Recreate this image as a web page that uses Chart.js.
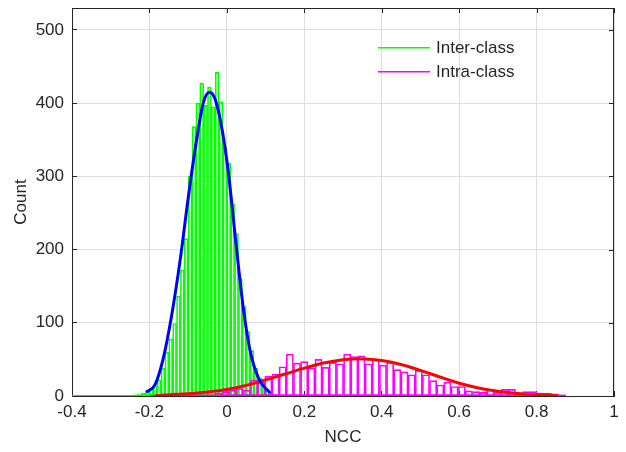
<!DOCTYPE html>
<html>
<head>
<meta charset="utf-8">
<script src="https://cdn.jsdelivr.net/npm/chart.js@4/dist/chart.umd.min.js"></script>
<style>
html,body{margin:0;padding:0;background:#ffffff;}
#wrap{width:626px;height:452px;}
</style>
</head>
<body>
<div id="wrap"><canvas id="c" width="626" height="452"></canvas></div>
<script>
// ---------- data ----------
const seriesNames = ['Inter-class', 'Intra-class'];
const xTicks = [-0.4, -0.2, 0, 0.2, 0.4, 0.6, 0.8, 1];
const yTicks = [0, 100, 200, 300, 400, 500];

// Inter-class histogram: first bin edge, bin width, counts
const interStart = -0.40;
const interWidth = 0.01;
const interCounts = [
  1, 0, 0, 0, 0, 0, 0, 0, 0, 0, 0, 0,
  1, 0, 1, 1, 2, 3,
  4, 6, 9, 14, 22, 38, 60, 78, 99, 136,
  172, 215, 300, 368, 400, 427, 397, 422, 395, 442,
  402, 340, 318, 262, 222, 160, 122, 88, 62, 38,
  24, 14, 8, 4, 2
];

// Intra-class histogram
const intraStart = -0.198;
const intraWidth = 0.0185;
const intraCounts = [
  0, 1, 0, 1, 1, 2, 2, 3, 3, 4,
  6, 8, 10, 8, 22, 19, 27, 30, 40, 57,
  45, 47, 38, 50, 39, 46, 44, 57, 54, 55,
  44, 50, 42, 46, 36, 33, 29, 35, 29, 21,
  15, 19, 13, 13, 7, 6, 5, 9, 5, 9,
  9, 4, 6, 6, 4, 4, 3, 2
];

// Fitted curves
const interFitX = [-0.2085, -0.185, -0.164, -0.142, -0.12, -0.099, -0.077, -0.06, -0.045, -0.03, -0.013, 0.004, 0.024, 0.043, 0.06, 0.082, 0.112];
const interFitY = [5, 16, 52, 112, 188, 274, 354, 402, 415, 405, 366, 305, 206, 118, 62, 24, 4];
const intraFitX = [-0.186, -0.1, -0.05, 0, 0.05, 0.1, 0.15, 0.2, 0.25, 0.3, 0.34, 0.4, 0.45, 0.5, 0.55, 0.6, 0.65, 0.7, 0.75, 0.8, 0.854];
const intraFitY = [0.8, 3, 5.5, 9, 14.5, 22, 30, 38, 45, 49.5, 51, 48.5, 43, 35, 26, 17.5, 11, 6.5, 3.5, 1.8, 0.8];

// ---------- build ----------
const FONT = '"Liberation Sans", Arial, Helvetica, sans-serif';
const TXT = '#262626';
const GREEN = '#00ff00', MAGENTA = '#ff00ff', BLUE = '#0000ff', RED = '#ff0000';

const toBars = (start, w, counts) => counts.map((c, i) => ({x: start + (i + 0.5) * w, y: c}));
const toPts = (xs, ys) => xs.map((x, i) => ({x: x, y: ys[i]}));
const baseLine = (start, w, counts) => [{x: start, y: 0}, {x: start + counts.length * w, y: 0}];

const boxPlugin = {
  id: 'box',
  afterDraw(chart) {
    const ctx = chart.ctx, a = chart.chartArea;
    const xs = chart.scales.x, ys = chart.scales.y;
    ctx.save();
    ctx.strokeStyle = TXT;
    ctx.lineWidth = 1;
    ctx.beginPath();
    ctx.moveTo(a.left, a.top + 0.5); ctx.lineTo(a.right, a.top + 0.5);
    ctx.moveTo(a.right - 0.5, a.top); ctx.lineTo(a.right - 0.5, a.bottom);
    xTicks.forEach(v => { const p = Math.round(xs.getPixelForValue(v)) + 0.5; ctx.moveTo(p, a.top); ctx.lineTo(p, a.top + 5); });
    yTicks.forEach(v => { const p = Math.round(ys.getPixelForValue(v)) + 0.5; ctx.moveTo(a.right, p); ctx.lineTo(a.right - 5, p); });
    ctx.stroke();
    ctx.restore();
  }
};

const legendPlugin = {
  id: 'inLegend',
  afterDraw(chart) {
    const ctx = chart.ctx, a = chart.chartArea;
    const items = [
      {label: seriesNames[0], color: GREEN},
      {label: seriesNames[1], color: MAGENTA}
    ];
    ctx.save();
    ctx.font = '17px ' + FONT;
    ctx.textBaseline = 'middle';
    ctx.textAlign = 'left';
    items.forEach((it, i) => {
      const y = Math.round(a.top + 39 + i * 24);
      ctx.fillStyle = it.color;
      ctx.fillRect(Math.round(a.left + 306), y, 52, 1.5);
      ctx.fillStyle = TXT;
      ctx.fillText(it.label, a.left + 364, y + 1.5);
    });
    ctx.restore();
  }
};

const noPad = s => { s.paddingTop = 0; s.paddingBottom = 0; s.paddingLeft = 0; s.paddingRight = 0; };

new Chart(document.getElementById('c'), {
  type: 'bar',
  data: {
    datasets: [
      {type: 'line', label: 'interFit', data: toPts(interFitX, interFitY), borderColor: BLUE, borderWidth: 3,
       pointRadius: 0, cubicInterpolationMode: 'monotone', fill: false, xAxisID: 'x', order: 0},
      {type: 'line', label: 'intraFit', data: toPts(intraFitX, intraFitY), borderColor: RED, borderWidth: 3,
       pointRadius: 0, cubicInterpolationMode: 'monotone', fill: false, xAxisID: 'x', order: 1},
      {type: 'bar', label: seriesNames[1], data: toBars(intraStart, intraWidth, intraCounts),
       borderColor: MAGENTA, backgroundColor: 'rgba(0,0,0,0)', borderWidth: 1, borderSkipped: false,
       barPercentage: 1, categoryPercentage: 1, grouped: false, xAxisID: 'x2', order: 2},
      {type: 'line', label: 'intraBase', data: baseLine(intraStart, intraWidth, intraCounts), borderColor: MAGENTA,
       borderWidth: 2, pointRadius: 0, xAxisID: 'x', order: 3},
      {type: 'bar', label: seriesNames[0], data: toBars(interStart, interWidth, interCounts),
       borderColor: GREEN, backgroundColor: 'rgba(0,0,0,0)', borderWidth: 1, borderSkipped: false,
       barPercentage: 1, categoryPercentage: 1, grouped: false, xAxisID: 'x', order: 4},
      {type: 'line', label: 'interBase', data: baseLine(interStart, interWidth, interCounts), borderColor: GREEN,
       borderWidth: 2, pointRadius: 0, xAxisID: 'x', order: 5}
    ]
  },
  options: {
    responsive: false,
    animation: false,
    devicePixelRatio: 1,
    layout: {padding: {left: 0, right: 12, top: 8, bottom: 0}},
    plugins: {legend: {display: false}, tooltip: {enabled: false}, title: {display: false}},
    scales: {
      x: {
        type: 'linear', position: 'bottom', min: -0.4, max: 1, offset: false,
        grid: {color: '#dfdfdf', offset: false, drawTicks: true, tickLength: -5, tickColor: TXT, lineWidth: 1},
        border: {color: TXT, width: 1},
        ticks: {padding: 11, color: TXT, font: {family: FONT, size: 17}, maxRotation: 0, autoSkip: false,
                callback: v => String(v)},
        afterBuildTicks: s => { s.ticks = xTicks.map(v => ({value: v})); },
        afterFit: s => { s.height = 56; noPad(s); },
        title: {display: true, text: 'NCC', color: TXT, font: {family: FONT, size: 17}, padding: {top: 0, bottom: 4}}
      },
      x2: {type: 'linear', display: false, min: -0.4, max: 1, offset: false, grid: {offset: false},
           afterFit: s => { noPad(s); }},
      y: {
        type: 'linear', position: 'left', min: 0, max: 530,
        grid: {color: '#dfdfdf', drawTicks: true, tickLength: -5, tickColor: TXT, lineWidth: 1},
        border: {color: TXT, width: 1},
        ticks: {padding: 13, color: TXT, font: {family: FONT, size: 17}, callback: v => String(v)},
        afterBuildTicks: s => { s.ticks = yTicks.map(v => ({value: v})); },
        afterFit: s => { s.width = 72; noPad(s); },
        title: {display: true, text: 'Count', color: TXT, font: {family: FONT, size: 17}, padding: {top: 11, bottom: 0}}
      }
    }
  },
  plugins: [boxPlugin, legendPlugin]
});
</script>
</body>
</html>
